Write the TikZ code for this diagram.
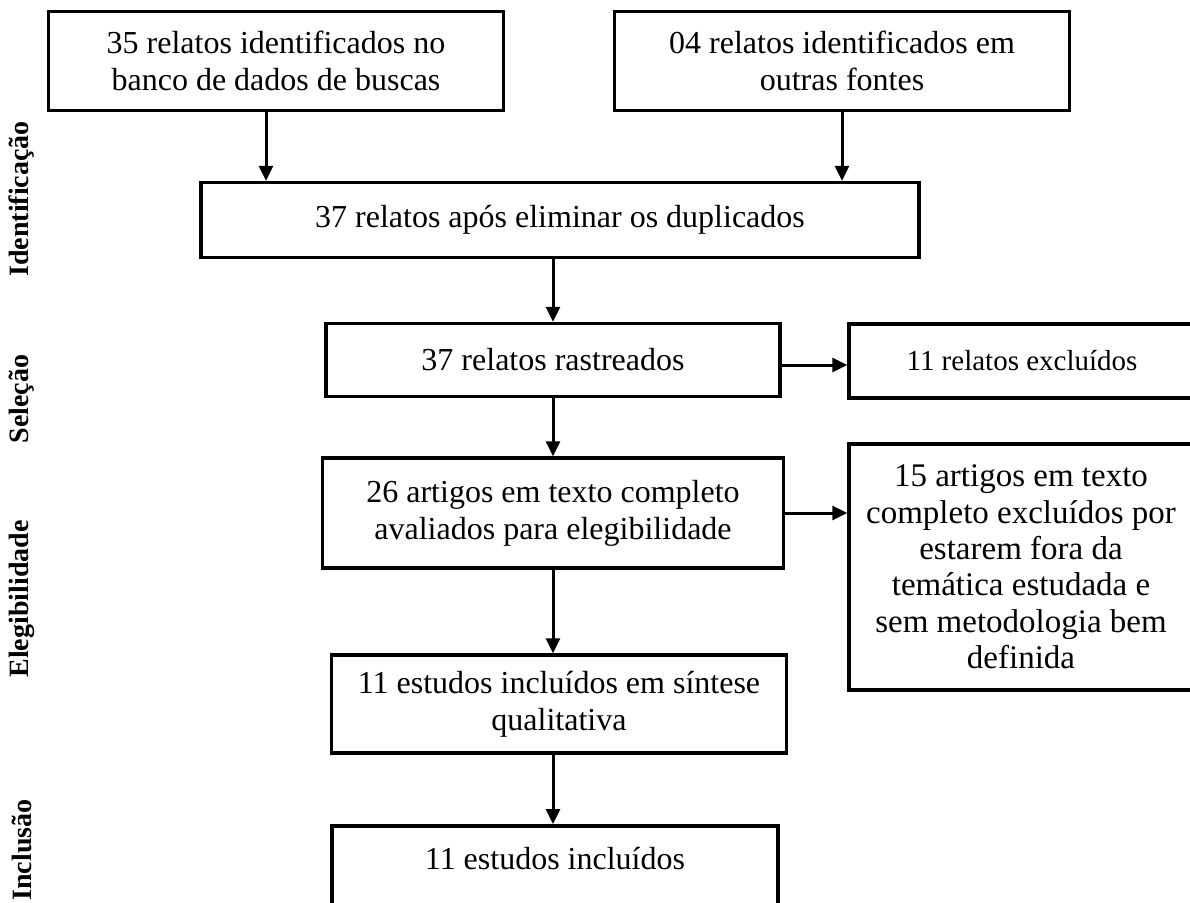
\documentclass[tikz,border=0pt]{standalone}
\usepackage{fontspec}
\setmainfont{Liberation Serif}
\usetikzlibrary{arrows.meta}

\begin{document}
\begin{tikzpicture}[x=1pt,y=-1pt,
  box/.style = {draw, line width=3.5pt, align=center, inner sep=4pt, font=\fontsize{32}{37}\selectfont},
  stage/.style = {rotate=90, font=\fontsize{28}{32}\selectfont\bfseries},
  >={Triangle[width=14pt,length=15pt]}, line width=3pt]
\useasboundingbox (0,0) rectangle (1190,902);
% caixas
\node[box, minimum width=455, minimum height=99] (1) at (276,61) {35 relatos identificados no\\banco de dados de buscas};
\node[box, minimum width=455, minimum height=99] (2) at (842,61) {04 relatos identificados em\\outras fontes};
\node[box, minimum width=718, minimum height=75] (3) at (560,220) {37 relatos após eliminar os duplicados};
\node[box, minimum width=454, minimum height=73] (4) at (553,360) {37 relatos rastreados};
\node[box, minimum width=346, minimum height=74, font=\fontsize{29}{34}\selectfont] (5) at (1022,361) {11 relatos excluídos};
\node[box, minimum width=461, minimum height=110] (6) at (553,513) {26 artigos em texto completo\\avaliados para elegibilidade};
\node[box, minimum width=344, minimum height=246, inner sep=2pt, font=\fontsize{33}{36.4}\selectfont] (7) at (1021,567) {15 artigos em texto\\completo excluídos por\\estarem fora da\\temática estudada e\\sem metodologia bem\\definida};
\node[box, minimum width=455, minimum height=98] (8) at (559,704) {11 estudos incluídos em síntese\\qualitativa};
\node[box, minimum width=446, anchor=north, text height=40, text depth=80] (9) at (555,824) {11 estudos incluídos};
% etapas
\node[stage] (a) at (22,199) {Identificação};
\node[stage] (b) at (22,399) {Seleção};
\node[stage] (c) at (22,599) {Elegibilidade};
\node[stage] (d) at (22,850) {Inclusão};
% setas
\draw[->] ([xshift=-10]1.south) -- ([xshift=-10]1.south |- 3.north);
\draw[->] (2.south) -- (2.south |- 3.north);
\draw[->] (4.north |- 3.south) -- (4.north);
\draw[->] ([yshift=-5]4.east) -- ([yshift=-5]4.east -| 5.west);
\draw[->] (4.south) -- (4.south |- 6.north);
\draw[->] (6.east) -- (6.east -| 7.west);
\draw[->] (4.south |- 6.south) -- (4.south |- 8.north);
\draw[->] (4.south |- 8.south) -- (4.south |- 9.north);
\end{tikzpicture}
\end{document}
